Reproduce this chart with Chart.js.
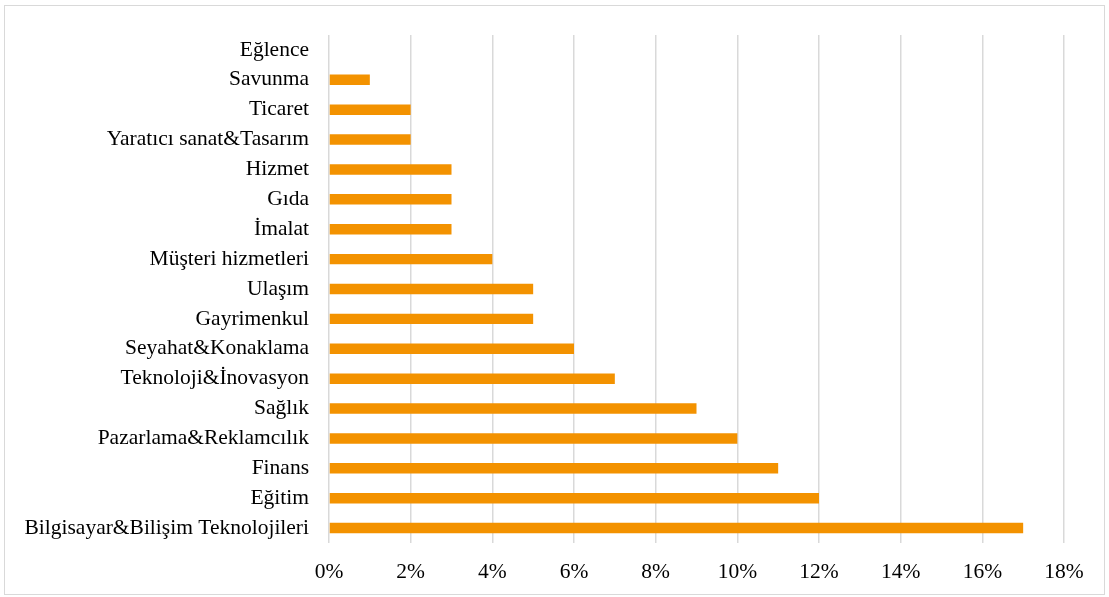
<!DOCTYPE html>
<html>
<head>
<meta charset="utf-8">
<script src="https://cdn.jsdelivr.net/npm/chart.js@4.4.0/dist/chart.umd.min.js"></script>
<style>
  html, body { margin: 0; padding: 0; background: #fff; }
  #wrap { position: absolute; left: 4px; top: 5px; width: 1099px; height: 588px; border: 1px solid #d9d9d9; }
</style>
</head>
<body>
<div id="wrap"><canvas id="sektorChart" width="1099" height="588"></canvas></div>
<script>
// Sektörler (üstten alta)
const sektorler = [
    'Eğlence', 'Savunma', 'Ticaret', 'Yaratıcı sanat&Tasarım', 'Hizmet', 'Gıda', 'İmalat',
    'Müşteri hizmetleri', 'Ulaşım', 'Gayrimenkul', 'Seyahat&Konaklama', 'Teknoloji&İnovasyon',
    'Sağlık', 'Pazarlama&Reklamcılık', 'Finans', 'Eğitim', 'Bilgisayar&Bilişim Teknolojileri'
];
const oranlar = [0, 1, 2, 2, 3, 3, 3, 4, 5, 5, 6, 7, 9, 10, 11, 12, 17];
const eksenMax = 18;
const eksenAdim = 2;

const yazi = { family: '"Liberation Serif", "Times New Roman", serif', size: 21.5 };

const ctx = document.getElementById('sektorChart').getContext('2d');
new Chart(ctx, {
    type: 'bar',
    data: {
        labels: sektorler,
        datasets: [{
            data: oranlar,
            backgroundColor: '#f39200',
            barPercentage: 0.35,
            categoryPercentage: 1.0
        }]
    },
    options: {
        indexAxis: 'y',
        responsive: false,
        animation: false,
        layout: { padding: { top: 29, right: 40, left: 0, bottom: 0 } },
        plugins: {
            legend: { display: false },
            tooltip: { enabled: false }
        },
        scales: {
            x: {
                min: 0,
                max: eksenMax,
                ticks: {
                    stepSize: eksenAdim,
                    color: '#000',
                    font: yazi,
                    padding: 16,
                    callback: v => v + '%'
                },
                grid: { color: '#d9d9d9', lineWidth: 1.5, drawTicks: false },
                border: { display: false },
                afterFit: s => { s.height = 51; }
            },
            y: {
                ticks: { color: '#000', font: yazi, padding: 12, autoSkip: false },
                grid: { display: false },
                border: { display: false },
                afterFit: s => { s.width = 324; }
            }
        }
    }
});
</script>
</body>
</html>
